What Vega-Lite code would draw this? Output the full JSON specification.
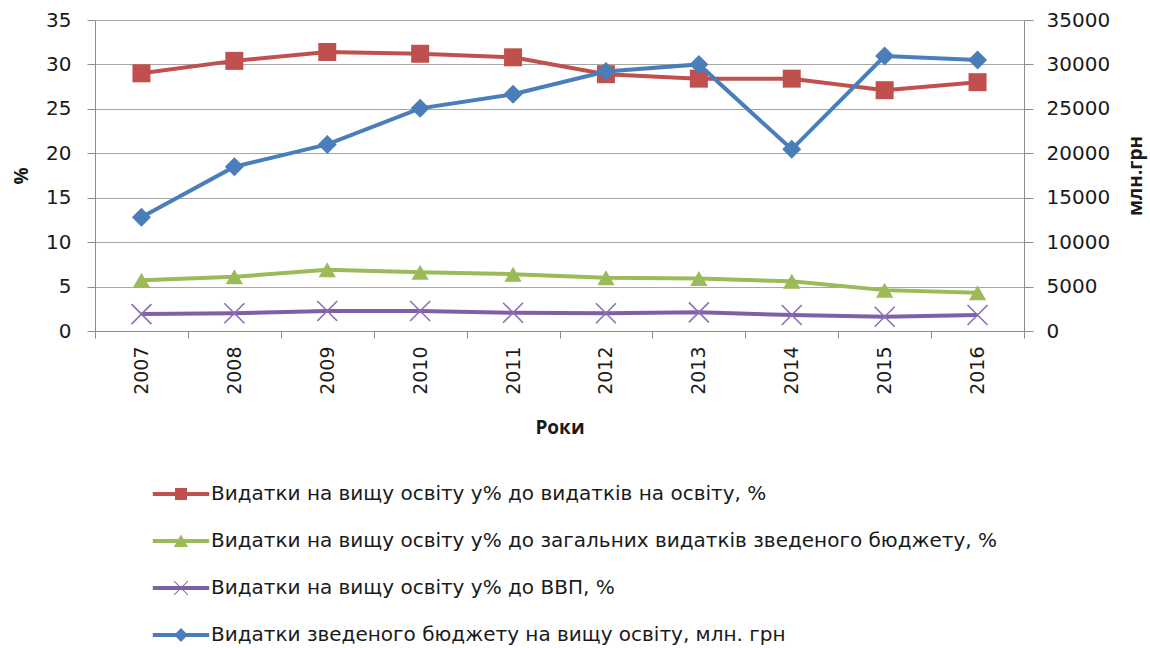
{
  "$schema": "https://vega.github.io/schema/vega-lite/v6.json",
  "width": 929,
  "height": 311,
  "autosize": {"type": "none"},
  "padding": {"left": 95, "top": 20, "right": 126, "bottom": 317},
  "background": "white",
  "config": {
    "view": {"stroke": null},
    "axis": {"labelFont": "DejaVu Sans", "labelFontSize": 20, "labelColor": "#1a1a1a", "titleFont": "Open Sans", "titleFontWeight": "bold", "titleFontSize": 19, "titleColor": "#1a1a1a", "domainColor": "#8c8c8c", "tickColor": "#8c8c8c", "gridColor": "#a6a6a6", "gridWidth": 1.2}
  },
  "datasets": {
    "d": [
      {"year": "2007", "series": "Видатки на вищу освіту у% до видатків на освіту, %", "value": 29.0},
      {"year": "2008", "series": "Видатки на вищу освіту у% до видатків на освіту, %", "value": 30.4},
      {"year": "2009", "series": "Видатки на вищу освіту у% до видатків на освіту, %", "value": 31.4},
      {"year": "2010", "series": "Видатки на вищу освіту у% до видатків на освіту, %", "value": 31.2},
      {"year": "2011", "series": "Видатки на вищу освіту у% до видатків на освіту, %", "value": 30.8},
      {"year": "2012", "series": "Видатки на вищу освіту у% до видатків на освіту, %", "value": 28.9},
      {"year": "2013", "series": "Видатки на вищу освіту у% до видатків на освіту, %", "value": 28.4},
      {"year": "2014", "series": "Видатки на вищу освіту у% до видатків на освіту, %", "value": 28.4},
      {"year": "2015", "series": "Видатки на вищу освіту у% до видатків на освіту, %", "value": 27.1},
      {"year": "2016", "series": "Видатки на вищу освіту у% до видатків на освіту, %", "value": 28.0},
      {"year": "2007", "series": "Видатки на вищу освіту у% до загальних видатків зведеного бюджету, %", "value": 5.7},
      {"year": "2008", "series": "Видатки на вищу освіту у% до загальних видатків зведеного бюджету, %", "value": 6.1},
      {"year": "2009", "series": "Видатки на вищу освіту у% до загальних видатків зведеного бюджету, %", "value": 6.9},
      {"year": "2010", "series": "Видатки на вищу освіту у% до загальних видатків зведеного бюджету, %", "value": 6.6},
      {"year": "2011", "series": "Видатки на вищу освіту у% до загальних видатків зведеного бюджету, %", "value": 6.4},
      {"year": "2012", "series": "Видатки на вищу освіту у% до загальних видатків зведеного бюджету, %", "value": 6.0},
      {"year": "2013", "series": "Видатки на вищу освіту у% до загальних видатків зведеного бюджету, %", "value": 5.9},
      {"year": "2014", "series": "Видатки на вищу освіту у% до загальних видатків зведеного бюджету, %", "value": 5.6},
      {"year": "2015", "series": "Видатки на вищу освіту у% до загальних видатків зведеного бюджету, %", "value": 4.6},
      {"year": "2016", "series": "Видатки на вищу освіту у% до загальних видатків зведеного бюджету, %", "value": 4.3},
      {"year": "2007", "series": "Видатки на вищу освіту  у% до ВВП, %", "value": 1.9},
      {"year": "2008", "series": "Видатки на вищу освіту  у% до ВВП, %", "value": 2.0},
      {"year": "2009", "series": "Видатки на вищу освіту  у% до ВВП, %", "value": 2.25},
      {"year": "2010", "series": "Видатки на вищу освіту  у% до ВВП, %", "value": 2.25},
      {"year": "2011", "series": "Видатки на вищу освіту  у% до ВВП, %", "value": 2.05},
      {"year": "2012", "series": "Видатки на вищу освіту  у% до ВВП, %", "value": 2.0},
      {"year": "2013", "series": "Видатки на вищу освіту  у% до ВВП, %", "value": 2.1},
      {"year": "2014", "series": "Видатки на вищу освіту  у% до ВВП, %", "value": 1.8},
      {"year": "2015", "series": "Видатки на вищу освіту  у% до ВВП, %", "value": 1.6},
      {"year": "2016", "series": "Видатки на вищу освіту  у% до ВВП, %", "value": 1.8},
      {"year": "2007", "series": "Видатки зведеного бюджету на вищу освіту, млн. грн", "value": 12800},
      {"year": "2008", "series": "Видатки зведеного бюджету на вищу освіту, млн. грн", "value": 18490},
      {"year": "2009", "series": "Видатки зведеного бюджету на вищу освіту, млн. грн", "value": 21000},
      {"year": "2010", "series": "Видатки зведеного бюджету на вищу освіту, млн. грн", "value": 25060},
      {"year": "2011", "series": "Видатки зведеного бюджету на вищу освіту, млн. грн", "value": 26650},
      {"year": "2012", "series": "Видатки зведеного бюджету на вищу освіту, млн. грн", "value": 29200},
      {"year": "2013", "series": "Видатки зведеного бюджету на вищу освіту, млн. грн", "value": 30000},
      {"year": "2014", "series": "Видатки зведеного бюджету на вищу освіту, млн. грн", "value": 20450},
      {"year": "2015", "series": "Видатки зведеного бюджету на вищу освіту, млн. грн", "value": 30950},
      {"year": "2016", "series": "Видатки зведеного бюджету на вищу освіту, млн. грн", "value": 30500}
    ]
  },
  "data": {"name": "d"},
  "layer": [
    {
      "transform": [{"filter": "datum.series !== 'Видатки зведеного бюджету на вищу освіту, млн. грн'"}],
      "encoding": {
        "x": {"field": "year", "type": "ordinal", "scale": {"type": "band", "paddingInner": 0, "paddingOuter": 0}, "title": "Роки",
          "axis": {"labelAngle": 270, "labelAlign": "right", "labelBaseline": "middle", "labelFontSize": 19, "tickBand": "extent", "tickSize": 7, "labelPadding": 8, "titlePadding": 24, "grid": false}},
        "y": {"field": "value", "type": "quantitative", "scale": {"domain": [0, 35], "nice": false}, "title": "%",
          "axis": {"orient": "left", "values": [0, 5, 10, 15, 20, 25, 30, 35], "tickSize": 8, "labelPadding": 16, "titlePadding": 14, "grid": true, "domain": true}}
      },
      "layer": [
        {"transform": [{"filter": "datum.series === 'Видатки на вищу освіту у% до видатків на освіту, %'"}],
         "layer": [
           {"mark": {"type": "line", "strokeWidth": 4, "color": "#C0504D"}},
           {"mark": {"type": "point", "shape": "square", "filled": true, "size": 324, "color": "#C0504D", "opacity": 1}}
         ]},
        {"transform": [{"filter": "datum.series === 'Видатки на вищу освіту у% до загальних видатків зведеного бюджету, %'"}],
         "layer": [
           {"mark": {"type": "line", "strokeWidth": 4, "color": "#9BBB59"}},
           {"mark": {"type": "point", "shape": "triangle-up", "filled": true, "size": 300, "color": "#9BBB59", "opacity": 1}}
         ]},
        {"transform": [{"filter": "datum.series === 'Видатки на вищу освіту  у% до ВВП, %'"}],
         "layer": [
           {"mark": {"type": "line", "strokeWidth": 4, "color": "#7F60A6"}},
           {"mark": {"type": "point", "shape": "M-1,-1L1,1M-1,1L1,-1", "filled": false, "size": 400, "stroke": "#8a6fb5", "strokeWidth": 1.6, "opacity": 1}}
         ]}
      ]
    },
    {
      "transform": [{"filter": "datum.series === 'Видатки зведеного бюджету на вищу освіту, млн. грн'"}],
      "encoding": {
        "x": {"field": "year", "type": "ordinal"},
        "y": {"field": "value", "type": "quantitative", "scale": {"domain": [0, 35000], "nice": false}, "title": "млн.грн",
          "axis": {"orient": "right", "values": [0, 5000, 10000, 15000, 20000, 25000, 30000, 35000], "format": "d", "tickSize": 9, "labelPadding": 13, "titlePadding": 36, "titleAngle": 270, "grid": false}}
      },
      "layer": [
        {"mark": {"type": "line", "strokeWidth": 4, "color": "#4A7EBB"}},
        {"mark": {"type": "point", "shape": "diamond", "filled": true, "size": 361, "color": "#4A7EBB", "opacity": 1}}
      ]
    },
    {
      "transform": [{"filter": "false"}],
      "mark": {"type": "point", "filled": true, "opacity": 1},
      "encoding": {
        "color": {"field": "series", "type": "nominal",
          "scale": {"domain": ["Видатки на вищу освіту у% до видатків на освіту, %", "Видатки на вищу освіту у% до загальних видатків зведеного бюджету, %", "Видатки на вищу освіту  у% до ВВП, %", "Видатки зведеного бюджету на вищу освіту, млн. грн"], "range": ["#C0504D", "#9BBB59", "#7F60A6", "#4A7EBB"]},
          "legend": {"title": null, "orient": "none", "legendX": 76, "legendY": 464, "direction": "vertical", "padding": 0, "symbolSize": 144, "symbolOpacity": 1, "symbolStrokeWidth": 0, "labelOffset": 20, "labelLimit": 1200, "labelFont": "DejaVu Sans", "labelFontSize": 20, "labelColor": "#1a1a1a", "rowPadding": 27}},
        "shape": {"field": "series", "type": "nominal",
          "scale": {"domain": ["Видатки на вищу освіту у% до видатків на освіту, %", "Видатки на вищу освіту у% до загальних видатків зведеного бюджету, %", "Видатки на вищу освіту  у% до ВВП, %", "Видатки зведеного бюджету на вищу освіту, млн. грн"],
            "range": ["M-4.7,-0.33H4.7V0.33H-4.7Z M-1,-1H1V1H-1Z", "M-4.7,-0.33H4.7V0.33H-4.7Z M0,-1.1L1.2,1H-1.2Z", "M-4.7,-0.33H4.7V0.33H-4.7Z M-1.2,-1.1L-1.1,-1.2L1.2,1.1L1.1,1.2Z M1.1,-1.2L1.2,-1.1L-1.1,1.2L-1.2,1.1Z", "M-4.7,-0.33H4.7V0.33H-4.7Z M0,-1.15L1.15,0L0,1.15L-1.15,0Z"]}}
      }
    }
  ],
  "resolve": {"scale": {"y": "independent"}}
}
